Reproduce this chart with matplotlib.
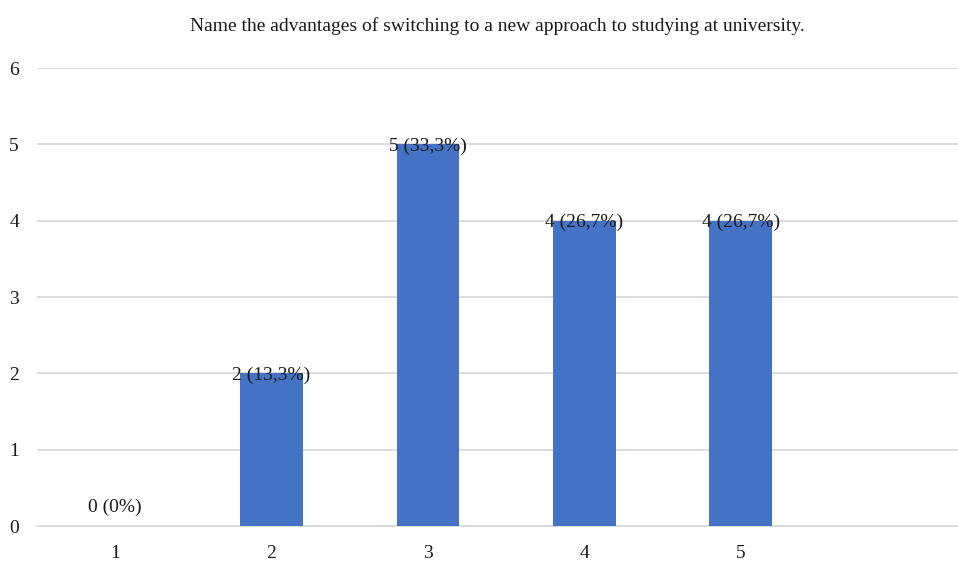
import matplotlib.pyplot as plt
import numpy as np

# Survey responses per rating (1-5), with share of 15 respondents
ratings = ["1", "2", "3", "4", "5"]
counts = [0, 2, 5, 4, 4]
shares = ["0%", "13,3%", "33,3%", "26,7%", "26,7%"]
title = "Name the advantages of switching to a new approach to studying at university."

plt.rcParams['font.family'] = ['Liberation Serif', 'DejaVu Serif']

fig = plt.figure(figsize=(9.58, 5.63), dpi=100)
ax = fig.add_axes([0.0386, 0.0657, 0.9614, 0.8135])

x = np.arange(1, len(ratings) + 1)
ax.bar(x, counts, width=0.4, color="#4472C4", zorder=3)

for xi, c, s in zip(x, counts, shares):
    off = 19 if c == 0 else -2
    ax.annotate(f"{c} ({s})", (xi, c), xytext=(0, off), textcoords="offset pixels",
                ha="center", va="center", fontsize=14, color="#1a1a1a", zorder=4)

ax.set_xlim(0.5, 6.39)
ax.set_ylim(0, 6)
ax.set_xticks(x)
ax.set_xticklabels(ratings)
ax.set_yticks(range(0, 7))
ax.tick_params(axis="both", length=0, labelsize=14, colors="#1a1a1a")
ax.tick_params(axis="y", pad=13)
ax.tick_params(axis="x", pad=14)

ax.yaxis.grid(True, color="#d9d9d9", linewidth=1.3, zorder=0)
for side in ["top", "right", "left"]:
    ax.spines[side].set_visible(False)
ax.spines["bottom"].set_color("#d9d9d9")
ax.spines["bottom"].set_linewidth(1.3)

fig.text(0.519, 0.953, title, ha="center", va="center", fontsize=14, color="#1a1a1a")

fig.savefig("out.png", dpi=100)
